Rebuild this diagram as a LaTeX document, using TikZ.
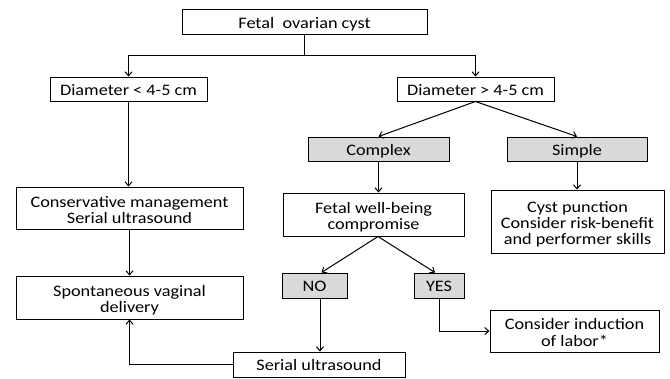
\documentclass[tikz,border=0pt]{standalone}
\usepackage{fontspec}
\setmainfont[FakeStretch=1.14]{Carlito}
\usetikzlibrary{arrows.meta}
\definecolor{boxgray}{RGB}{217,217,217}
\newcommand{\bxt}[2]{\raisebox{0pt}[#1pt][0pt]{\begin{tabular}[b]{@{}c@{}}#2\end{tabular}}}
\begin{document}
\begin{tikzpicture}[x=1pt,y=-1pt,
  box/.style={draw=black,line width=1pt,inner sep=0pt,font=\fontsize{16}{15.5}\selectfont},
  graybox/.style={box,fill=boxgray},
  arr/.style={line width=1pt,-{Straight Barb[length=4pt,width=7pt]}},
  ln/.style={line width=1pt}]
\useasboundingbox (0,0) rectangle (670,378);
\node[box,minimum width=245pt,minimum height=25pt] (top) at (304.5,21.5) {\bxt{13}{Fetal\ \ ovarian cyst}};
\node[box,minimum width=157pt,minimum height=24pt] (dl) at (128.5,89) {\bxt{12}{Diameter < 4-5 cm}};
\node[box,minimum width=157pt,minimum height=24pt] (dg) at (475.5,89) {\bxt{12}{Diameter > 4-5 cm}};
\node[graybox,minimum width=141pt,minimum height=24pt] (complex) at (378.5,149) {\bxt{12}{Complex}};
\node[graybox,minimum width=140pt,minimum height=24pt] (simple) at (577,149) {\bxt{12}{Simple}};
\node[box,minimum width=227pt,minimum height=42pt] (cons) at (129.5,208) {\bxt{30}{Conservative management\\Serial ultrasound}};
\node[box,minimum width=181pt,minimum height=43pt] (fetal) at (373.5,214.5) {\bxt{30}{Fetal well-being\\compromise}};
\node[box,minimum width=173pt,minimum height=63pt] (cyst) at (577.5,221.5) {\bxt{46}{Cyst punction\\Consider risk-benefit\\and performer skills}};
\node[box,minimum width=227pt,minimum height=43pt] (spont) at (129.5,297.5) {\bxt{30}{Spontaneous vaginal\\delivery}};
\node[graybox,minimum width=65pt,minimum height=25pt] (no) at (314.5,285.5) {\bxt{12}{NO}};
\node[graybox,minimum width=50pt,minimum height=25pt] (yes) at (439,285.5) {\bxt{12}{YES}};
\node[box,minimum width=169pt,minimum height=42pt] (induct) at (574.5,331) {\bxt{30}{Consider induction\\of labor*}};
\node[box,minimum width=172pt,minimum height=25pt] (serial) at (319,364.5) {\bxt{12}{Serial ultrasound}};

\coordinate (split) at (304.5,55);
\draw[ln] (top.south) -- (split);
\draw[arr] (split) -| (dl.north);
\draw[arr] (split) -| (dg.north);
\draw[arr] (dg.south) -- (complex.north);
\draw[arr] (dg.south) -- (simple.north);
\draw[arr] (complex.south) -- (complex.south |- fetal.north);
\draw[arr] (simple.south) -- (simple.south |- cyst.north);
\draw[arr] (dl.south) -- (dl.south |- cons.north);
\draw[arr] (cons.south) -- (spont.north);
\coordinate (fs) at ([xshift=4.5pt]fetal.south);
\draw[arr] (fs) -- ([xshift=7pt]no.north);
\draw[arr] (fs) -- ([xshift=-4pt]yes.north);
\draw[arr] ([xshift=5.5pt]no.south) -- ([xshift=5.5pt]no.south |- serial.north);
\draw[arr] (yes.south) |- (induct.west);
\draw[arr] (serial.west) -| (spont.south);
\end{tikzpicture}
\end{document}
